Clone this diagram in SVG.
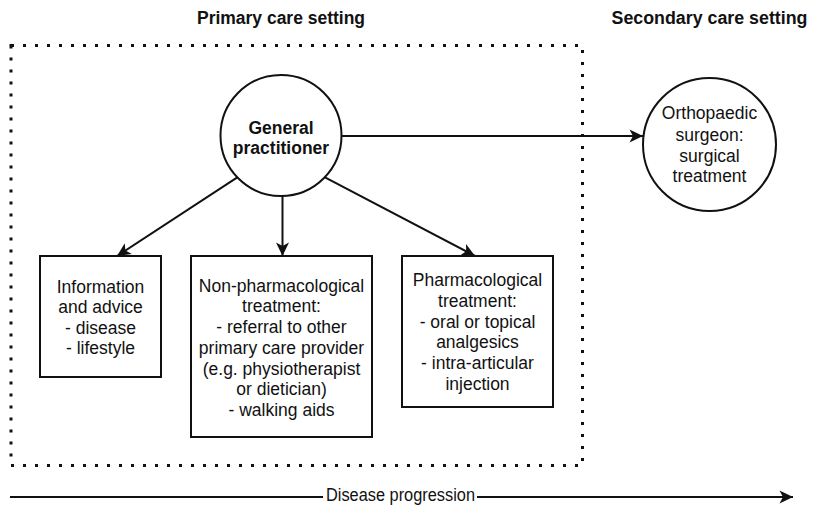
<svg xmlns="http://www.w3.org/2000/svg" width="813" height="505" viewBox="0 0 813 505">
<style>
.t{font-family:"Liberation Sans",Arial,sans-serif;font-size:17.5px;fill:#111;text-anchor:middle}
.b{font-weight:bold}
.shape{fill:#fff;stroke:#111;stroke-width:2}
.conn{fill:none;stroke:#111;stroke-width:2}
</style>
<defs>
<marker id="arr" markerUnits="userSpaceOnUse" viewBox="-14 -7 15 14" refX="0" refY="0" markerWidth="15" markerHeight="14" orient="auto">
<path d="M-13.5,-6.5 L0,0 L-13.5,6.5 L-10,0 Z" fill="#111"/>
</marker>
</defs>
<rect width="813" height="505" fill="#fff"/>
<g id="titles">
<text class="t b" x="281" y="24" font-size="20" textLength="168" lengthAdjust="spacingAndGlyphs">Primary care setting</text>
<text class="t b" x="709.5" y="24" font-size="20" textLength="196" lengthAdjust="spacingAndGlyphs">Secondary care setting</text>
</g>
<g id="primary-care-frame">
<rect x="11" y="45.5" width="571.5" height="420" fill="none" stroke="#111" stroke-width="3" stroke-dasharray="3 9"/>
</g>
<g id="connectors">
<line class="conn" x1="237.3" y1="177.4" x2="117" y2="256" marker-end="url(#arr)"/>
<line class="conn" x1="282.5" y1="196" x2="282.5" y2="256" marker-end="url(#arr)"/>
<line class="conn" x1="325" y1="177.3" x2="475" y2="256" marker-end="url(#arr)"/>
<line class="conn" x1="341.5" y1="136" x2="643" y2="136" marker-end="url(#arr)"/>
</g>
<g id="gp">
<circle class="shape" cx="281" cy="135.5" r="60.5"/>
<text class="t b" x="281" y="133.5">General</text>
<text class="t b" x="281" y="153.5">practitioner</text>
</g>
<g id="orthopaedic">
<circle class="shape" cx="709.5" cy="144.5" r="66.5"/>
<text class="t" x="709.5" y="119.3">Orthopaedic</text>
<text class="t" x="709.5" y="140.5">surgeon:</text>
<text class="t" x="709.5" y="161.5">surgical</text>
<text class="t" x="709.5" y="182">treatment</text>
</g>
<g id="information">
<rect class="shape" x="40" y="256" width="121" height="121"/>
<text class="t" x="100.5" y="292.5">Information</text>
<text class="t" x="100.5" y="313">and advice</text>
<text class="t" x="100.5" y="333.5">- disease</text>
<text class="t" x="100.5" y="354">- lifestyle</text>
</g>
<g id="non-pharmacological">
<rect class="shape" x="191" y="256" width="181" height="181"/>
<text class="t" x="281.5" y="291.7">Non-pharmacological</text>
<text class="t" x="281.5" y="312.4">treatment:</text>
<text class="t" x="281.5" y="333.1">- referral to other</text>
<text class="t" x="281.5" y="353.8">primary care provider</text>
<text class="t" x="281.5" y="374.5">(e.g. physiotherapist</text>
<text class="t" x="281.5" y="395.2">or dietician)</text>
<text class="t" x="281.5" y="415.9">- walking aids</text>
</g>
<g id="pharmacological">
<rect class="shape" x="402" y="256" width="151" height="151"/>
<text class="t" x="477.5" y="286">Pharmacological</text>
<text class="t" x="477.5" y="306.8">treatment:</text>
<text class="t" x="477.5" y="327.6">- oral or topical</text>
<text class="t" x="477.5" y="348.4">analgesics</text>
<text class="t" x="477.5" y="369.2">- intra-articular</text>
<text class="t" x="477.5" y="390">injection</text>
</g>
<g id="disease-progression">
<line class="conn" x1="10" y1="497" x2="323" y2="497"/>
<line class="conn" x1="477" y1="497" x2="793" y2="497" marker-end="url(#arr)"/>
<text class="t" x="400.5" y="501" font-size="16.5" textLength="149" lengthAdjust="spacingAndGlyphs">Disease progression</text>
</g>
</svg>
